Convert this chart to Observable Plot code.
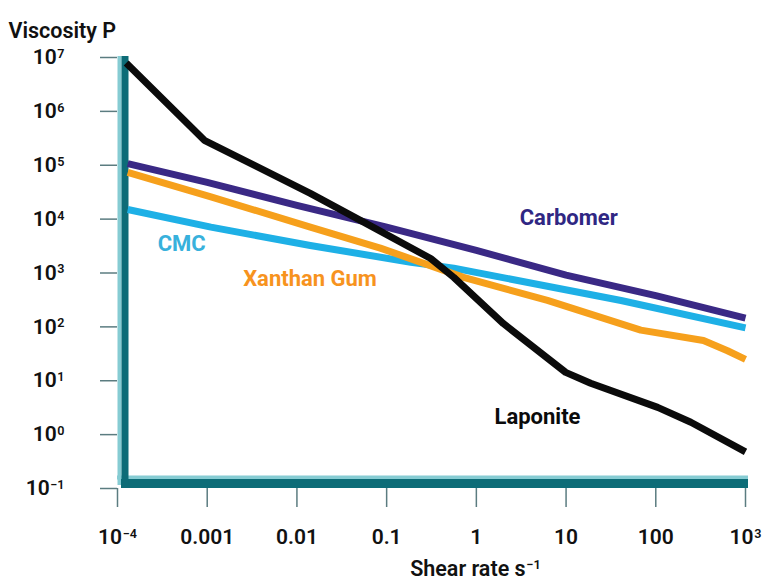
<!DOCTYPE html>
<html>
<head>
<meta charset="utf-8">
<script src="https://cdn.jsdelivr.net/npm/d3@7"></script>
<script src="https://cdn.jsdelivr.net/npm/@observablehq/plot@0.6"></script>
<style>
  html, body { margin: 0; padding: 0; background: #fff; }
  #chart svg { display: block; }
</style>
</head>
<body>
<div id="chart"></div>
<script>
// ---- data ----
const seriesNames = ["CMC", "Xanthan Gum", "Carbomer", "Laponite"];
const seriesColors = ["#1eb0e6", "#f6a01c", "#3a2985", "#0b0b0b"];
const labelColors = ["#38b1dc", "#f7931e", "#2f2783", "#0b0b0b"];

const cmcShear = [1.3e-4, 0.0011, 0.0141, 0.186, 0.56, 41, 1000];
const cmcVisc  = [15100, 7100, 3240, 1580, 1230, 309, 96];

const xanShear = [1.3e-4, 0.0011, 0.0141, 0.085, 0.72, 6.2, 68, 340, 630, 1000];
const xanVisc  = [74000, 26000, 7100, 2900, 830, 310, 87, 56, 36, 25];

const carShear = [1.3e-4, 0.001, 0.01, 0.1, 1, 10, 100, 1000];
const carVisc  = [107000, 48000, 18000, 7100, 2630, 910, 380, 145];

const lapShear = [1.25e-4, 9.3e-4, 0.0141, 0.051, 0.31, 0.56, 2.0, 9.9, 18.8, 105, 246, 1000];
const lapVisc  = [7900000, 290000, 30000, 9500, 1860, 830, 115, 14.3, 9.0, 3.2, 1.7, 0.48];

const labelShear = [5.2e-4, 0.014, 10.7, 4.8];
const labelVisc  = [3400, 760, 10700, 2.1];

const xTickValues = [1e-4, 1e-3, 1e-2, 1e-1, 1, 10, 100, 1000];
const xTickLabels = ["10^−4", "0.001", "0.01", "0.1", "1", "10", "100", "10^3"];
const yTickValues = [1e-1, 1, 10, 100, 1000, 1e4, 1e5, 1e6, 1e7];
const yTickLabels = ["10^−1", "10^0", "10^1", "10^2", "10^3", "10^4", "10^5", "10^6", "10^7"];

const xTitle = "Shear rate s^−1";
const yTitle = "Viscosity P";

// ---- build tables ----
const shears = [cmcShear, xanShear, carShear, lapShear];
const viscs = [cmcVisc, xanVisc, carVisc, lapVisc];
const rows = [];
seriesNames.forEach((name, s) => {
  shears[s].forEach((x, i) => rows.push({series: name, shear: x, visc: viscs[s][i]}));
});
const labels = seriesNames.map((name, i) => ({name, shear: labelShear[i], visc: labelVisc[i], color: labelColors[i]}));
const xMap = new Map(xTickValues.map((v, i) => [v, xTickLabels[i]]));
const yMap = new Map(yTickValues.map((v, i) => [v, yTickLabels[i]]));

const dark = "#0d6c77";
const light = "#86ccd3";
const tickGray = "#5b7c80";

const chart = Plot.plot({
  width: 764,
  height: 584,
  marginLeft: 117,
  marginRight: 19,
  marginTop: 57,
  marginBottom: 96,
  style: {fontFamily: "Roboto, 'Liberation Sans', Arial, sans-serif", background: "#fff", color: "#111"},
  x: {type: "log", domain: [1e-4, 1e3]},
  y: {type: "log", domain: [1e-1, 1e7]},
  color: {domain: seriesNames, range: seriesColors},
  marks: [
    // axis bars (decorative)
    Plot.ruleY([1e-1], {x1: 1e-4, x2: 1e3, stroke: light, strokeWidth: 4, dy: -11, insetRight: -3}),
    Plot.ruleX([1e-4], {y1: 1e-1, y2: 1e7, stroke: light, strokeWidth: 4, dx: 2, insetTop: -3, insetBottom: 1}),
    Plot.ruleY([1e-1], {x1: 1e-4, x2: 1e3, stroke: dark, strokeWidth: 9, dy: -5, insetLeft: 4, insetRight: -3}),
    Plot.ruleX([1e-4], {y1: 1e-1, y2: 1e7, stroke: dark, strokeWidth: 7, dx: 7.5, insetTop: -3, insetBottom: 1}),
    Plot.axisY(yTickValues, {
      tickFormat: d => yMap.get(d), tickSize: 17, tickPadding: 36, fontSize: 21, fontWeight: 600,
      stroke: tickGray, strokeWidth: 1.5, fill: "#111", label: null
    }),
    Plot.axisX(xTickValues, {
      tickFormat: d => xMap.get(d), tickSize: 19, tickPadding: 22, fontSize: 21, fontWeight: 600,
      stroke: tickGray, strokeWidth: 1.5, fill: "#111", label: null
    }),
    Plot.line(rows, {
      x: "shear", y: "visc", z: "series", stroke: "series",
      strokeWidth: 7, strokeLinejoin: "round", strokeLinecap: "butt"
    }),
    Plot.text(labels, {
      x: "shear", y: "visc", text: "name", fill: "color",
      fontSize: 22, fontWeight: "bold"
    }),
    Plot.text([yTitle], {frameAnchor: "top-left", dx: -109, dy: -35, textAnchor: "start", fontSize: 21.5, fontWeight: 600, fill: "#111"}),
    Plot.text([xTitle], {frameAnchor: "bottom", dx: 44, dy: 87, fontSize: 21.5, fontWeight: 600, fill: "#111"})
  ]
});

// render superscripts as real tspans
d3.select(chart).selectAll("text").each(function() {
  const t = this.textContent;
  if (!t.includes("^")) return;
  const [base, sup] = t.split("^");
  const el = d3.select(this);
  el.text(null);
  el.append("tspan").text(base);
  el.append("tspan").attr("font-size", "0.6em").attr("dy", "-0.5em").attr("dx", "0.05em").text(sup);
});

document.getElementById("chart").appendChild(chart);
</script>
</body>
</html>
